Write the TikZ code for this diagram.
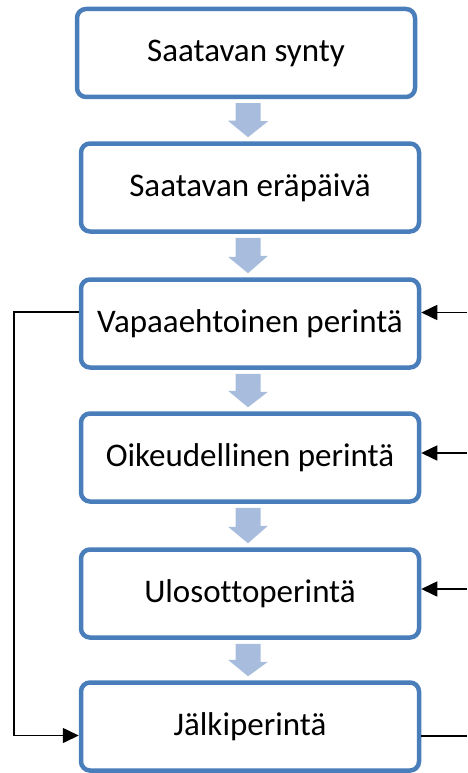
\documentclass[tikz,border=0pt]{standalone}
\usepackage{fontspec}
\setmainfont{Carlito}[Ligatures=NoCommon]
\usetikzlibrary{arrows.meta,shapes.arrows}
\definecolor{boxblue}{RGB}{74,126,187}
\definecolor{arrblue}{RGB}{168,189,221}
\tikzset{
  stepbox/.style={draw=boxblue, line width=4.5pt, rounded corners=9pt, fill=white,
    minimum width=338pt, minimum height=88pt, inner sep=0pt,
    font=\fontsize{33}{36}\selectfont, text=black},
  blockarr/.style={fill=arrblue, draw=none},
  conn/.style={draw=black, line width=1.6pt},
  tip/.style={-{Triangle[length=16pt,width=15pt]}}
}
\begin{document}
\begin{tikzpicture}[x=1pt,y=-1pt]
\useasboundingbox (0,0) rectangle (467,773);
\node[stepbox] (b1) at (246,53) {Saatavan synty};
\node[stepbox] (b2) at (250,187.5) {Saatavan eräpäivä};
\node[stepbox] (b3) at (250,323.5) {Vapaaehtoinen perintä};
\node[stepbox] (b4) at (250,457.5) {Oikeudellinen perintä};
\node[stepbox] (b5) at (250,593.5) {Ulosottoperintä};
\node[stepbox] (b6) at (250,726.5) {Jälkiperintä};
% block arrows between boxes
\foreach \a/\b in {b1/b2,b2/b3,b3/b4,b4/b5,b5/b6}{
  \path ([yshift=-4pt]\a.south) coordinate (s) ([yshift=4pt]\b.north) coordinate (e);
  \fill[blockarr] (248,0 |- s) ++(-12.5,0) -- ++(25,0) -- ++(0,18) -- ++(7.5,0)
     -- (248,0 |- e) -- ++(-20,-16.5) -- ++(7.5,0) -- cycle;
}
% left loop
\coordinate (l1) at (14,312);
\coordinate (l2) at (14,735.5);
\draw[conn,tip] (b3.west |- l1) -- (l1) -- (l2) -- (b6.west |- l2);
% right side arrows
\coordinate (r3) at (467,312.5);
\coordinate (r4) at (467,453);
\coordinate (r5) at (467,589);
\coordinate (r6) at (467,736);
\draw[conn,tip] (r3) -- (b3.east |- r3);
\draw[conn,tip] (r4) -- (b4.east |- r4);
\draw[conn,tip] (r5) -- (b5.east |- r5);
\draw[conn] (b6.east |- r6) -- (r6);
\end{tikzpicture}
\end{document}
